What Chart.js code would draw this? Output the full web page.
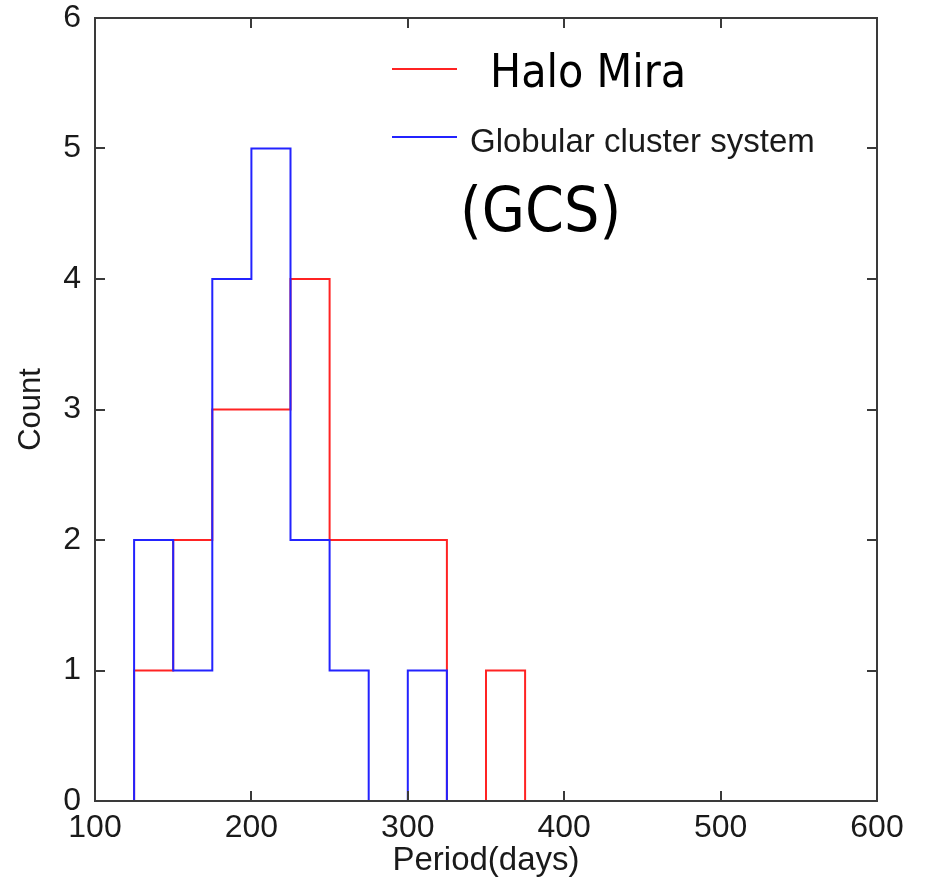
<!DOCTYPE html>
<html>
<head>
<meta charset="utf-8">
<script src="https://cdn.jsdelivr.net/npm/chart.js@4"></script>
<style>
  body { margin: 0; background: #fff; }
</style>
</head>
<body>
<canvas id="myChart" width="926" height="885"></canvas>
<script>
// histogram bins (left edges, width 25 days)
var binWidth = 25;
var haloBins = [125, 150, 175, 200, 225, 250, 275, 300, 325, 350];
var haloCounts = [1, 2, 3, 3, 4, 2, 2, 2, 0, 1];
var gcsBins = [125, 150, 175, 200, 225, 250, 275, 300];
var gcsCounts = [2, 1, 4, 5, 2, 1, 0, 1];
var xTicks = [100, 200, 300, 400, 500, 600];
var yTicks = [0, 1, 2, 3, 4, 5, 6];

// turn bins into a step outline
function outline(bins, counts) {
  var pts = [{x: bins[0], y: 0}];
  for (var i = 0; i < bins.length; i++) {
    pts.push({x: bins[i], y: counts[i]});
  }
  pts.push({x: bins[bins.length - 1] + binWidth, y: 0});
  return pts;
}

var red = 'rgb(255, 35, 35)';
var blue = 'rgb(35, 35, 255)';

// frame with inward ticks on all four sides + the pasted legend
var framePlugin = {
  id: 'frame',
  afterDatasetsDraw: function(chart) {
    var ctx = chart.ctx, a = chart.chartArea;
    var xs = chart.scales.x, ys = chart.scales.y;
    ctx.save();
    ctx.strokeStyle = '#3a3a3a';
    ctx.lineWidth = 2;
    ctx.strokeRect(a.left, a.top, a.right - a.left, a.bottom - a.top);
    ctx.beginPath();
    xTicks.slice(1, -1).forEach(function(v) {
      var px = Math.round(xs.getPixelForValue(v));
      ctx.moveTo(px, a.bottom); ctx.lineTo(px, a.bottom - 10);
      ctx.moveTo(px, a.top); ctx.lineTo(px, a.top + 10);
    });
    yTicks.slice(1, -1).forEach(function(v) {
      var py = Math.round(ys.getPixelForValue(v));
      ctx.moveTo(a.left, py); ctx.lineTo(a.left + 10, py);
      ctx.moveTo(a.right, py); ctx.lineTo(a.right - 10, py);
    });
    ctx.stroke();
    ctx.restore();
  },
  afterDraw: function(chart) {
    var ctx = chart.ctx;
    ctx.save();
    ctx.lineWidth = 2;
    ctx.strokeStyle = red;
    ctx.beginPath(); ctx.moveTo(392, 69); ctx.lineTo(457, 69); ctx.stroke();
    ctx.strokeStyle = blue;
    ctx.beginPath(); ctx.moveTo(392, 137); ctx.lineTo(457, 137); ctx.stroke();
    ctx.fillStyle = '#000';
    ctx.textBaseline = 'alphabetic';
    ctx.font = '46px "DejaVu Sans Condensed", "DejaVu Sans", sans-serif';
    ctx.fillText('Halo Mira', 490, 87);
    ctx.fillStyle = '#1a1a1a';
    ctx.font = '33px "Liberation Sans", Arial, sans-serif';
    ctx.fillText('Globular cluster system', 470, 152);
    ctx.fillStyle = '#000';
    ctx.font = '62px "DejaVu Sans Condensed", "DejaVu Sans", sans-serif';
    ctx.fillText('(GCS)', 460, 231);
    ctx.restore();
  }
};

Chart.defaults.font.family = '"Liberation Sans", Arial, sans-serif';
Chart.defaults.color = '#1a1a1a';

var data = {
  datasets: [
    {
      label: 'Halo Mira',
      data: outline(haloBins, haloCounts),
      borderColor: red,
      borderWidth: 2,
      stepped: 'before',
      pointRadius: 0,
      fill: false,
      clip: false,
      order: 1
    },
    {
      label: 'Globular cluster system (GCS)',
      data: outline(gcsBins, gcsCounts),
      borderColor: blue,
      borderWidth: 2,
      stepped: 'before',
      pointRadius: 0,
      fill: false,
      clip: false,
      order: 0
    }
  ]
};

var config = {
  type: 'line',
  data: data,
  options: {
    responsive: false,
    animation: false,
    events: [],
    layout: { padding: { top: 0, right: 49, left: 0, bottom: 0 } },
    plugins: {
      legend: { display: false },
      tooltip: { enabled: false }
    },
    scales: {
      x: {
        type: 'linear',
        min: 100,
        max: 600,
        grid: { display: false },
        border: { display: false },
        afterBuildTicks: function(s) { s.ticks = xTicks.map(function(v) { return {value: v}; }); },
        afterFit: function(s) { s.height = 84; },
        ticks: { font: { size: 32 }, padding: 0, maxRotation: 0 },
        title: { display: true, text: 'Period(days)', font: { size: 33 }, padding: { bottom: 4 } }
      },
      y: {
        min: 0,
        max: 6,
        grid: { display: false },
        border: { display: false },
        afterBuildTicks: function(s) { s.ticks = yTicks.map(function(v) { return {value: v}; }); },
        afterFit: function(s) { s.width = 95; s.paddingTop = 18; },
        ticks: { font: { size: 32, lineHeight: 1 }, padding: 6 },
        title: { display: true, text: 'Count', font: { size: 31 }, padding: { top: 13 } }
      }
    }
  },
  plugins: [framePlugin]
};

var myChart = new Chart(document.getElementById('myChart').getContext('2d'), config);
</script>
</body>
</html>
